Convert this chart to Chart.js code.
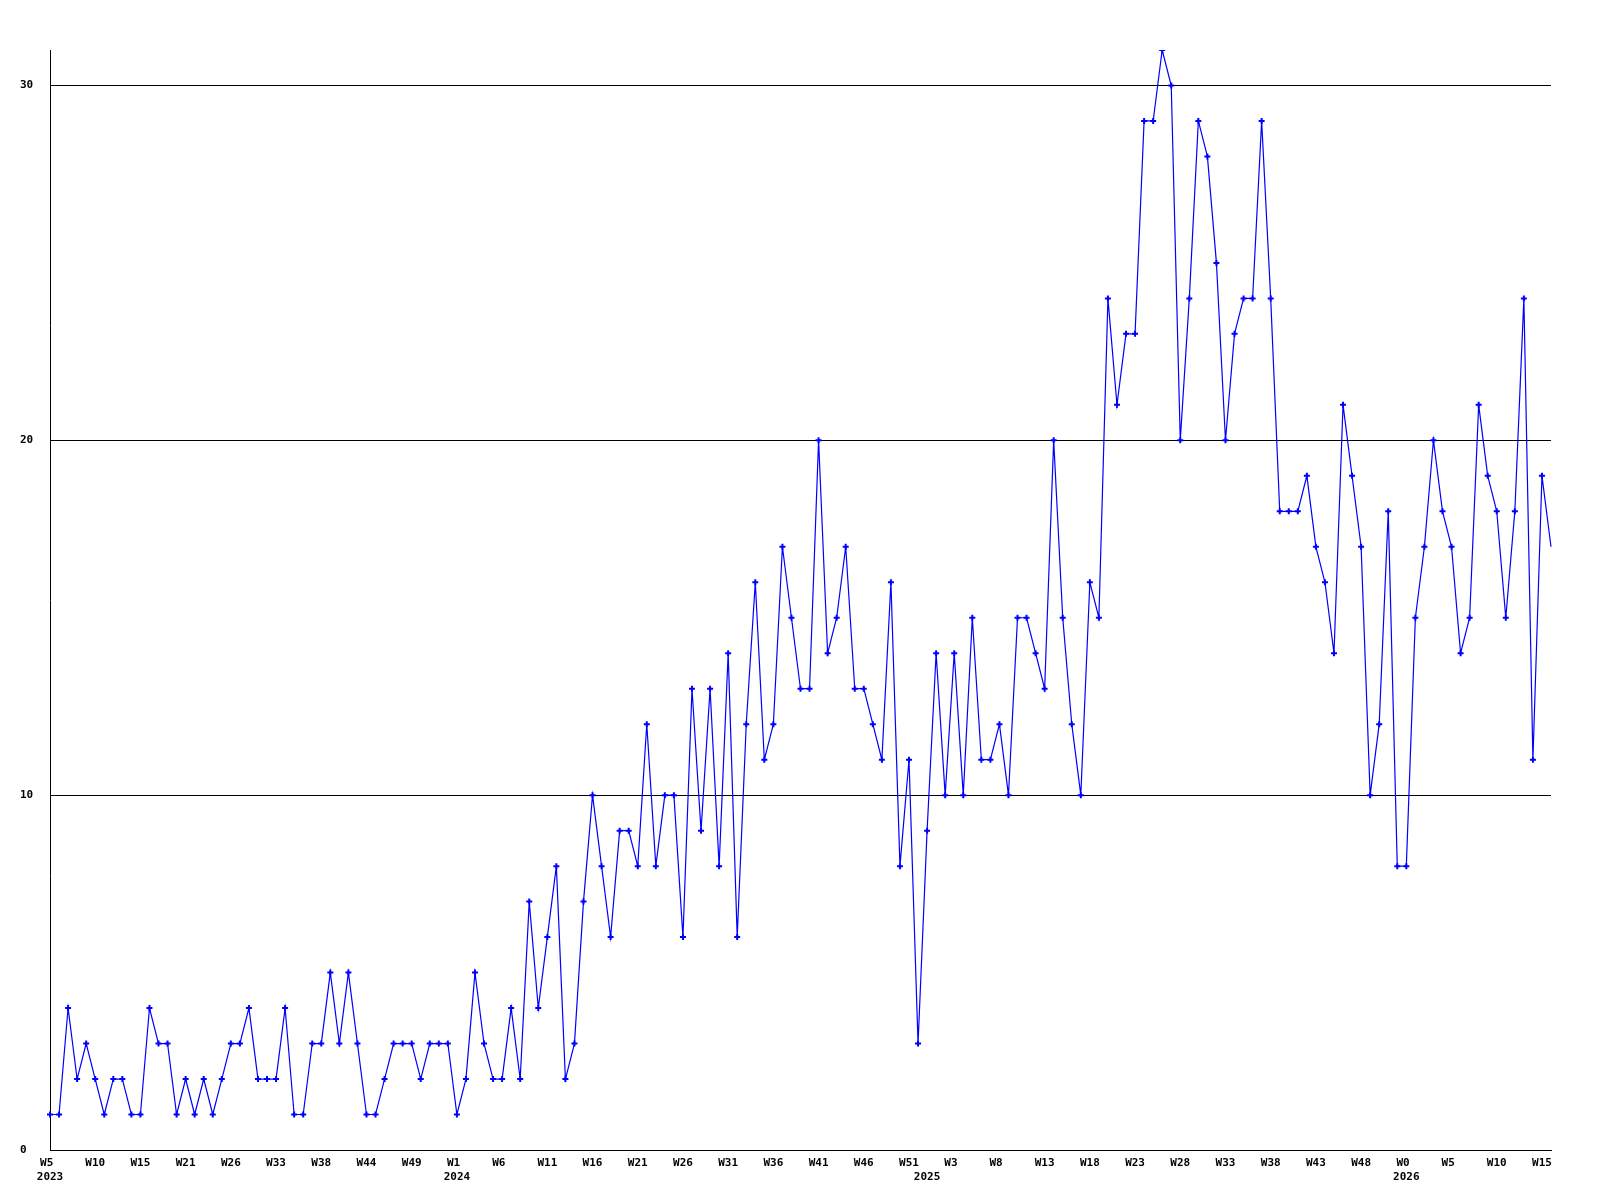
<!DOCTYPE html>
<html>
<head>
<meta charset="utf-8">
<style>
  html, body { margin: 0; padding: 0; background: #ffffff; }
  #wrap { width: 1600px; height: 1200px; }
</style>
<script src="https://cdn.jsdelivr.net/npm/chart.js@4.4.1/dist/chart.umd.min.js"></script>
</head>
<body>
<div id="wrap"><canvas id="c" width="1600" height="1200"></canvas></div>
<script>
// Weekly counts, W5 2023 .. W16 2026
const values = [
  1,1,4,2,3,2,1,2,2,1, 1,4,3,3,1,2,1,2,1,2, 3,3,4,2,2,2,4,1,1,3, 3,5,3,5,3,1,1,2,3,3, 3,2,3,3,3,
  1,2,5,3,2,2,4,2,7,4, 6,8,2,3,7,10,8,6,9,9, 8,
  12,8,10,10,6,13,9,13,8,14, 6,12,16,11,12,17,15,13,13,20, 14,15,17,13,13,12,11,16,8,11,
  3,9,14,10,14,10,15,11,11,12, 10,15,15,14,13,20,15,12,10,16, 15,
  24,21,23,23,29,29,31,30,20,24, 29,28,25,20,23,24,24,29,24,18, 18,18,19,17,16,14,
  21,19,17,10,12,18,8,8,15,17, 20,18,17,14,15,21,19,18,15,18, 24,11,19,17
];

// Week tick labels shown every 5th point
const weekTicks = ['W5','W10','W15','W21','W26','W33','W38','W44','W49',
  'W1','W6','W11','W16','W21','W26','W31','W36','W41','W46','W51',
  'W3','W8','W13','W18','W23','W28','W33','W38','W43','W48',
  'W0','W5','W10','W15'];
const weekTickEvery = 5;

// Year labels and the point index at which each year starts
const yearTicks = ['2023','2024','2025','2026'];
const yearStart = [0, 45, 97, 150];

const yTicks = [0, 10, 20, 30];
const yMax = 31;

// Build category labels (two lines: week, year)
const categories = values.map((_, i) => {
  const w = (i % weekTickEvery === 0 && weekTicks[i / weekTickEvery]) ? weekTicks[i / weekTickEvery].padEnd(3, ' ') : '';
  const yi = yearStart.indexOf(i);
  const y = yi >= 0 ? yearTicks[yi] : '';
  return [w, y];
});

const FONT = { family: "'DejaVu Sans Mono', monospace", size: 11, weight: 'bold', lineHeight: 1.3 };

new Chart(document.getElementById('c'), {
  type: 'line',
  data: {
    labels: categories,
    datasets: [{
      data: values,
      borderColor: '#0000ff',
      backgroundColor: '#0000ff',
      borderWidth: 1.2,
      tension: 0,
      fill: false,
      pointStyle: 'cross',
      pointRadius: ctx => ctx.dataIndex === values.length - 1 ? 0 : 3,
      pointBorderWidth: 2,
      pointBorderColor: '#0000ff',
      pointHoverRadius: 3
    }]
  },
  options: {
    responsive: false,
    animation: false,
    events: [],
    layout: { padding: { left: 20, top: 50, right: 49, bottom: 0 } },
    plugins: { legend: { display: false }, tooltip: { enabled: false }, title: { display: false } },
    scales: {
      x: {
        type: 'category',
        offset: false,
        grid: { display: false, drawTicks: false, tickLength: 0 },
        border: { display: true, color: '#000000', width: 1 },
        ticks: {
          autoSkip: false,
          maxRotation: 0,
          minRotation: 0,
          padding: 6,
          color: '#000000',
          font: FONT,
          callback: function (v, i) { return categories[i]; }
        },
        afterFit: s => { s.height = 50; s.paddingLeft = 0; s.paddingRight = 0; }
      },
      y: {
        min: 0,
        max: yMax,
        grid: { color: '#000000', lineWidth: 1, drawTicks: false, tickLength: 0 },
        border: { display: true, color: '#000000', width: 1 },
        ticks: {
          crossAlign: 'far',
          padding: 0,
          color: '#000000',
          font: FONT,
          stepSize: 10
        },
        afterBuildTicks: s => { s.ticks = yTicks.map(v => ({ value: v })); },
        afterFit: s => { s.width = 30; s.paddingTop = 0; s.paddingBottom = 0; }
      }
    }
  }
});
</script>
</body>
</html>
